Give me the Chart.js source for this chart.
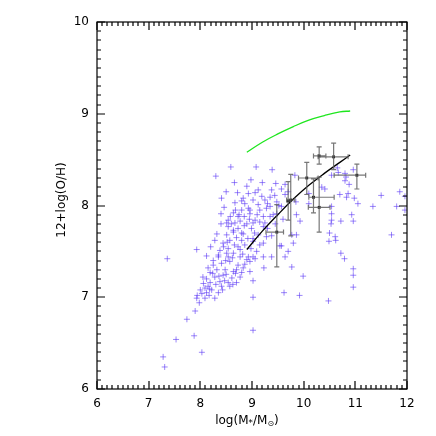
<!DOCTYPE html>
<html>
<head>
<meta charset="utf-8">
<script src="https://cdn.jsdelivr.net/npm/chart.js@4"></script>
<style>
  html, body { margin: 0; padding: 0; background: #fff; }
  #wrap { width: 436px; height: 436px; }
</style>
</head>
<body>
<div id="wrap"><canvas id="chart" width="436" height="436"></canvas></div>
<script>
// galaxy sample: stellar mass vs oxygen abundance
const massX = [
    8.59, 9.08, 9.39, 8.30, 8.66, 8.90, 9.46, 9.64, 9.12, 9.06, 8.72, 8.93, 9.38, 9.57, 8.41, 9.19,
    9.35, 9.44, 9.64, 9.02, 9.25, 9.48, 8.67, 8.86, 9.12, 8.46, 8.93, 9.35, 9.57, 8.80, 9.15, 8.40,
    8.64, 8.96, 9.41, 8.85, 9.22, 8.54, 8.77, 9.06, 8.67, 8.40, 8.90, 9.25, 8.54, 8.73, 8.99, 8.32,
    8.64, 8.80, 8.51, 8.70, 9.12, 9.38, 8.57, 8.80, 9.02, 8.44, 8.66, 8.86, 9.22, 8.54, 8.77, 8.98,
    8.38, 8.64, 9.09, 8.35, 8.54, 8.77, 8.93, 9.22, 7.93, 9.57, 9.64, 9.77, 7.36, 8.51, 8.25, 8.41,
    8.57, 8.73, 8.90, 9.06, 8.19, 8.32, 8.48, 8.64, 8.80, 8.96, 8.12, 8.28, 8.44, 8.61, 8.77, 8.06,
    8.19, 8.38, 8.54, 8.70, 9.02, 8.09, 8.22, 8.41, 8.57, 8.03, 8.12, 8.43, 7.94, 8.17, 7.93, 8.09,
    8.28, 7.98, 9.02, 7.90, 7.74, 9.02, 7.88, 7.53, 8.03, 7.28, 7.31, 9.54, 9.80, 9.70, 9.38, 9.23,
    9.77, 9.99, 9.62, 9.92, 10.48, 8.83, 8.96, 9.02, 10.65, 10.54, 10.80, 10.96, 10.82, 10.80, 10.88, 9.83,
    10.35, 10.41, 10.10, 10.70, 10.83, 10.86, 10.98, 11.05, 11.34, 11.50, 11.80, 11.86, 11.96, 11.96, 9.85, 10.10,
    10.54, 10.54, 9.86, 9.93, 10.54, 10.53, 10.72, 10.93, 10.96, 9.86, 10.50, 10.61, 10.62, 10.49, 11.70, 10.72,
    10.79, 10.96, 10.96, 10.96, 8.83, 8.96, 9.28, 9.35, 8.73, 9.02, 9.22, 9.48, 8.51, 8.64, 8.83, 9.02,
    9.28, 8.73, 9.15, 10.67, 8.35, 8.45, 8.62, 8.82, 8.49, 8.70, 8.86, 8.24, 8.36, 8.50, 8.68, 8.15,
    8.30, 8.47, 8.63, 8.00, 8.18, 8.35, 8.25, 8.15, 8.05, 8.52, 8.60, 8.75, 8.95, 9.10, 9.30, 8.80,
    8.68, 8.58, 9.05, 9.15, 8.92, 8.85, 9.30, 9.45, 8.50, 8.20, 8.28, 8.12, 9.52, 9.60, 9.70, 9.20,
    8.98
];
const ohY = [
    8.42, 8.42, 8.39, 8.32, 8.25, 8.21, 8.24, 8.23, 8.17, 8.14, 8.14, 8.13, 8.17, 8.18, 8.08, 8.10,
    8.09, 8.11, 8.12, 8.06, 8.06, 8.04, 8.03, 8.02, 8.01, 7.98, 7.97, 7.99, 7.99, 7.95, 7.95, 7.91,
    7.92, 7.91, 7.90, 7.88, 7.88, 7.84, 7.83, 7.84, 7.81, 7.80, 7.80, 7.81, 7.77, 7.75, 7.75, 7.69,
    7.71, 7.70, 7.68, 7.65, 7.68, 7.67, 7.62, 7.62, 7.61, 7.59, 7.57, 7.57, 7.59, 7.53, 7.52, 7.53,
    7.51, 7.48, 7.50, 7.44, 7.44, 7.44, 7.44, 7.44, 7.52, 7.56, 7.44, 7.68, 7.42, 7.48, 7.35, 7.37,
    7.39, 7.35, 7.41, 7.42, 7.27, 7.30, 7.30, 7.28, 7.27, 7.28, 7.20, 7.22, 7.24, 7.21, 7.22, 7.15,
    7.16, 7.17, 7.16, 7.16, 7.18, 7.10, 7.08, 7.12, 7.12, 7.04, 7.05, 7.08, 7.02, 7.02, 6.99, 6.99,
    6.99, 6.94, 7.00, 6.85, 6.76, 6.64, 6.58, 6.54, 6.40, 6.35, 6.24, 7.56, 7.59, 7.50, 7.44, 7.32,
    7.33, 7.23, 7.05, 7.02, 6.96, 7.32, 7.39, 7.44, 8.41, 8.33, 8.35, 8.39, 8.31, 8.27, 8.23, 8.33,
    8.20, 8.18, 8.13, 8.12, 8.09, 8.13, 8.08, 8.02, 7.99, 8.11, 7.99, 8.15, 8.10, 7.95, 8.04, 8.02,
    7.99, 7.91, 7.90, 7.83, 7.84, 7.80, 7.83, 7.90, 7.83, 7.68, 7.70, 7.66, 7.62, 7.61, 7.68, 7.48,
    7.42, 7.31, 7.24, 7.11, 8.08, 7.95, 7.97, 7.88, 7.88, 7.81, 7.77, 7.91, 7.81, 7.73, 7.69, 7.64,
    7.66, 7.55, 7.57, 8.36, 7.46, 7.55, 7.43, 7.47, 7.40, 7.30, 7.36, 7.26, 7.23, 7.25, 7.26, 7.12,
    7.14, 7.18, 7.14, 7.08, 7.09, 7.05, 7.40, 7.32, 7.22, 7.60, 7.80, 7.90, 7.85, 7.90, 8.02, 8.05,
    7.95, 7.88, 7.70, 7.82, 7.64, 7.78, 7.75, 7.80, 8.15, 7.55, 7.62, 7.45, 8.00, 7.85, 8.15, 8.25,
    8.28
];

// binned points with error bars (low / high ends)
const binX    = [10.30, 10.58, 11.03, 10.06, 10.19, 10.30, 9.75, 9.70, 9.48];
const binY    = [8.54, 8.53, 8.33, 8.30, 8.09, 7.98, 8.06, 8.05, 7.71];
const binXLo  = [10.19, 10.28, 10.59, 9.90, 10.10, 10.09, 9.67, 9.70, 9.27];
const binXHi  = [10.43, 10.86, 11.20, 10.28, 10.59, 10.51, 9.83, 9.70, 9.61];
const binYLo  = [8.45, 8.39, 8.18, 8.12, 7.92, 7.71, 7.67, 7.84, 7.33];
const binYHi  = [8.64, 8.68, 8.45, 8.47, 8.29, 8.31, 8.34, 8.26, 8.01];

// black fit curve
const fitX = [8.90, 9.20, 9.50, 9.80, 10.10, 10.40, 10.70, 10.90];
const fitY = [7.52, 7.72, 7.90, 8.07, 8.22, 8.35, 8.47, 8.55];

// green reference relation
const refX = [8.90, 9.20, 9.50, 9.80, 10.10, 10.40, 10.70, 10.90];
const refY = [8.58, 8.69, 8.78, 8.86, 8.93, 8.98, 9.02, 9.03];

const xTicks = [6, 7, 8, 9, 10, 11, 12];
const yTicks = [6, 7, 8, 9, 10];

const toPoints = (xs, ys) => xs.map((x, i) => ({ x: x, y: ys[i] }));

const FONT = 'DejaVu Sans';

// inward ticks on all four sides, IDL style
const frameTicks = {
    id: 'frameTicks',
    afterDraw(chart) {
        const ctx = chart.ctx;
        const a = chart.chartArea;
        const xs = chart.scales.x, ys = chart.scales.y;
        ctx.save();
        ctx.strokeStyle = '#000';
        ctx.lineWidth = 1.2;
        ctx.strokeRect(a.left, a.top, a.right - a.left, a.bottom - a.top);
        for (let i = xTicks[0] * 10; i <= xTicks[xTicks.length - 1] * 10; i++) {
            const px = Math.round(xs.getPixelForValue(i / 10));
            const len = i % 10 === 0 ? 8 : 4;
            ctx.beginPath();
            ctx.moveTo(px, a.bottom); ctx.lineTo(px, a.bottom - len);
            ctx.moveTo(px, a.top); ctx.lineTo(px, a.top + len);
            ctx.stroke();
        }
        for (let i = yTicks[0] * 10; i <= yTicks[yTicks.length - 1] * 10; i++) {
            const py = Math.round(ys.getPixelForValue(i / 10));
            const len = i % 10 === 0 ? 8 : 4;
            ctx.beginPath();
            ctx.moveTo(a.left, py); ctx.lineTo(a.left + len, py);
            ctx.moveTo(a.right, py); ctx.lineTo(a.right - len, py);
            ctx.stroke();
        }

        // axis titles
        ctx.fillStyle = '#000';
        ctx.textBaseline = 'middle';
        const cx = (a.left + a.right) / 2 - 5;
        const ty = 421;
        const parts = [
            ['log(M', 12, 0], ['\u204E', 9, 0], ['/M', 12, 0], ['\u2299', 8, 3], [')', 12, 0]
        ];
        let total = 0;
        parts.forEach(p => { ctx.font = p[1] + 'px ' + FONT; total += ctx.measureText(p[0]).width; });
        let x0 = cx - total / 2;
        ctx.textAlign = 'left';
        parts.forEach(p => {
            ctx.font = p[1] + 'px ' + FONT;
            ctx.fillText(p[0], x0, ty + p[2]);
            x0 += ctx.measureText(p[0]).width;
        });

        ctx.translate(62, 200);
        ctx.rotate(-Math.PI / 2);
        ctx.textAlign = 'center';
        ctx.font = '12px ' + FONT;
        ctx.fillText('12+log(O/H)', 0, 0);
        ctx.restore();
    }
};

// error bars for the binned points
const errorBars = {
    id: 'errorBars',
    afterDatasetsDraw(chart) {
        const ctx = chart.ctx;
        const xs = chart.scales.x, ys = chart.scales.y;
        ctx.save();
        ctx.strokeStyle = 'rgba(95, 95, 95, 0.85)';
        ctx.lineWidth = 1.2;
        ctx.beginPath();
        binX.forEach((bx, i) => {
            const px = xs.getPixelForValue(bx), py = ys.getPixelForValue(binY[i]);
            const x1 = xs.getPixelForValue(binXLo[i]), x2 = xs.getPixelForValue(binXHi[i]);
            const y1 = ys.getPixelForValue(binYLo[i]), y2 = ys.getPixelForValue(binYHi[i]);
            if (x2 - x1 > 1) {
                ctx.moveTo(x1, py); ctx.lineTo(x2, py);
                ctx.moveTo(x1, py - 2.5); ctx.lineTo(x1, py + 2.5);
                ctx.moveTo(x2, py - 2.5); ctx.lineTo(x2, py + 2.5);
            }
            ctx.moveTo(px, y1); ctx.lineTo(px, y2);
            ctx.moveTo(px - 2.5, y1); ctx.lineTo(px + 2.5, y1);
            ctx.moveTo(px - 2.5, y2); ctx.lineTo(px + 2.5, y2);
        });
        ctx.stroke();
        ctx.restore();
    }
};

new Chart(document.getElementById('chart'), {
    type: 'scatter',
    data: {
        datasets: [
            {
                label: 'bins',
                data: toPoints(binX, binY),
                pointStyle: 'rect',
                pointRadius: 2,
                backgroundColor: '#000',
                borderColor: '#000',
                borderWidth: 0,
                order: 0
            },
            {
                label: 'fit',
                data: toPoints(fitX, fitY),
                showLine: true,
                tension: 0.4,
                pointRadius: 0,
                borderColor: '#000',
                borderWidth: 1.3,
                order: 1
            },
            {
                label: 'reference',
                data: toPoints(refX, refY),
                showLine: true,
                tension: 0.4,
                pointRadius: 0,
                borderColor: '#1ee61e',
                borderWidth: 1.3,
                order: 2
            },
            {
                label: 'galaxies',
                data: toPoints(massX, ohY),
                pointStyle: 'cross',
                pointRadius: 3,
                borderColor: 'rgba(90, 55, 245, 0.6)',
                borderWidth: 1,
                order: 3
            }
        ]
    },
    options: {
        responsive: false,
        animation: false,
        events: [],
        layout: { padding: { top: 22, right: 29, left: 0, bottom: 0 } },
        plugins: {
            legend: { display: false },
            tooltip: { enabled: false },
            title: { display: false }
        },
        scales: {
            x: {
                type: 'linear',
                min: 6,
                max: 12,
                afterFit: (s) => { s.height = 47; },
                afterBuildTicks: (s) => { s.ticks = xTicks.map(v => ({ value: v })); },
                grid: { display: false, drawTicks: false },
                border: { display: false },
                ticks: { padding: 8, color: '#000', font: { family: FONT, size: 12 } }
            },
            y: {
                type: 'linear',
                min: 6,
                max: 10,
                afterFit: (s) => { s.width = 97; },
                afterBuildTicks: (s) => { s.ticks = yTicks.map(v => ({ value: v })); },
                grid: { display: false, drawTicks: false },
                border: { display: false },
                ticks: { padding: 8, color: '#000', font: { family: FONT, size: 12 } }
            }
        }
    },
    plugins: [frameTicks, errorBars]
});
</script>
</body>
</html>
